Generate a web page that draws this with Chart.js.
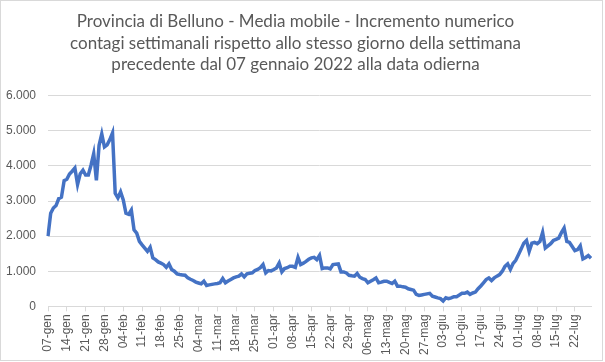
<!DOCTYPE html>
<html>
<head>
<meta charset="utf-8">
<script src="https://cdn.jsdelivr.net/npm/chart.js@4/dist/chart.umd.min.js"></script>
<style>
  html, body { margin: 0; padding: 0; background: #fff; }
  #wrap { position: relative; width: 605px; height: 362px; }
  #frame { position: absolute; left: 0; top: 0; width: 603px; height: 361px; box-sizing: border-box; border: 1px solid #d9d9d9; pointer-events: none; }
</style>
</head>
<body>
<div id="wrap">
  <canvas id="contagiChart" width="605" height="362"></canvas>
  <div id="frame"></div>
</div>
<script>
// tick labels on the x axis, one each week starting from 07-gen
const weekLabels = ['07-gen', '14-gen', '21-gen', '28-gen', '04-feb', '11-feb', '18-feb', '25-feb',
  '04-mar', '11-mar', '18-mar', '25-mar', '01-apr', '08-apr', '15-apr', '22-apr', '29-apr',
  '06-mag', '13-mag', '20-mag', '27-mag', '03-giu', '10-giu', '17-giu', '24-giu',
  '01-lug', '08-lug', '15-lug', '22-lug'];

// daily values, 07-gen .. 28-lug
const gennaio = [2000, 2650, 2800, 2870, 3070, 3110, 3580, 3620, 3770, 3850, 3940, 3470, 3780, 3880,
  3740, 3740, 4020, 4350, 3590, 4590, 4915, 4540, 4600, 4750, 4940];
const febbraio = [3220, 3090, 3260, 3030, 2650, 2620, 2745, 2180, 2085, 1850, 1750, 1660, 1565, 1680,
  1380, 1330, 1265, 1230, 1190, 1110, 1210, 1050, 1000, 925, 905, 895, 885, 810];
const marzo = [770, 735, 690, 665, 640, 715, 595, 610, 625, 640, 650, 670, 790, 670, 720, 765, 810,
  840, 860, 925, 840, 925, 940, 955, 1020, 1050, 1100, 1190, 950, 1020, 1010];
const aprile = [1050, 1095, 1235, 980, 1075, 1100, 1140, 1140, 1110, 1395, 1190, 1230, 1280, 1340,
  1380, 1395, 1330, 1450, 1075, 1095, 1095, 1065, 1190, 1200, 1210, 980, 980, 950, 885, 870];
const maggio = [860, 935, 830, 790, 765, 670, 715, 760, 810, 670, 690, 715, 715, 680, 650, 715, 575,
  575, 555, 545, 500, 480, 460, 340, 310, 325, 340, 355, 370, 290, 265];
const giugno = [240, 220, 150, 245, 220, 240, 275, 275, 320, 370, 370, 405, 340, 380, 405, 500, 580,
  670, 760, 810, 735, 810, 860, 905, 1000, 1140, 1210, 1050, 1220, 1310];
const luglio = [1470, 1630, 1800, 1875, 1565, 1800, 1820, 1785, 1850, 2105, 1660, 1720, 1785, 1875,
  1910, 1945, 2100, 2230, 1850, 1820, 1705, 1585, 1615, 1725, 1350, 1390, 1445, 1370];

const values = [...gennaio, ...febbraio, ...marzo, ...aprile, ...maggio, ...giugno, ...luglio];
const labels = values.map((v, i) => (i % 7 === 0 ? weekLabels[i / 7] : ''));

const titleLines = [
  'Provincia di Belluno - Media mobile - Incremento numerico',
  'contagi settimanali rispetto allo stesso giorno della settimana',
  'precedente dal 07 gennaio 2022 alla data odierna'
];

function formatThousands(v) {
  return String(v).replace(/\B(?=(\d{3})+(?!\d))/g, '.');
}

const ctx = document.getElementById('contagiChart');

const chart = new Chart(ctx, {
  type: 'line',
  data: {
    labels: labels,
    datasets: [{
      data: values,
      borderColor: '#4472c4',
      borderWidth: 3.5,
      pointRadius: 0,
      tension: 0,
      fill: false
    }]
  },
  options: {
    responsive: false,
    animation: false,
    layout: {
      padding: { left: 0, right: 14, top: 0, bottom: 4 }
    },
    plugins: {
      legend: { display: false },
      tooltip: { enabled: false },
      title: {
        display: true,
        text: titleLines,
        color: '#595959',
        font: { family: 'Lato, "Open Sans", sans-serif', size: 17, weight: 'normal', lineHeight: 1.27 },
        padding: { top: 11, bottom: 20 }
      }
    },
    scales: {
      y: {
        min: 0,
        max: 6000,
        ticks: {
          stepSize: 1000,
          color: '#595959',
          padding: 12,
          font: { family: '"Liberation Sans", Arial, sans-serif', size: 12 },
          callback: (v) => formatThousands(v)
        },
        grid: { color: '#d9d9d9', drawTicks: false },
        border: { display: false },
        afterFit: (scale) => { scale.width = 48; }
      },
      x: {
        ticks: {
          autoSkip: false,
          maxRotation: 90,
          minRotation: 90,
          color: '#595959',
          padding: 3,
          font: { family: '"Liberation Sans", Arial, sans-serif', size: 12 },
          callback: function (value, index) {
            const l = this.getLabelForValue(value);
            return l === '' ? null : l;
          }
        },
        grid: { color: '#d9d9d9', drawOnChartArea: false, tickLength: 5 },
        border: { display: true, color: '#d9d9d9' }
      }
    }
  }
});
</script>
</body>
</html>
